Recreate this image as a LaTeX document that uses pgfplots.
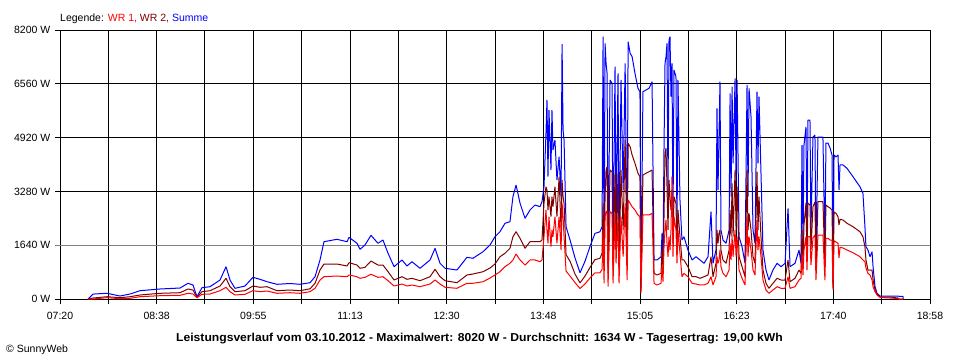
\documentclass[border=0pt]{standalone}
\usepackage{pgfplots}
\pgfplotsset{compat=1.18}
\usepackage{pgfplotstable}
\usepackage{fontspec}
\setmainfont{Liberation Sans}
\definecolor{wrone}{RGB}{255,0,0}
\definecolor{wrtwo}{RGB}{128,0,0}
\definecolor{summe}{RGB}{0,0,255}
\definecolor{gridgray}{RGB}{128,128,128}

\pgfplotstableread{
t S W2 W1
462.5 0 0 0
466.5 150 30 0
477.7 174 70 40
488.1 91 40 10
496.2 152 70 21
504.2 253 122 70
520.2 305 174 101
536.3 335 192 113
542.7 479 305 174
546.7 427 274 152
549.9 70 52 40
553.9 344 223 143
560.3 375 253 152
568.4 579 396 253
573.2 985 631 357
576.4 579 375 223
580.4 326 223 122
588.4 396 253 143
594.8 661 396 253
600.5 600 357 223
606.1 527 375 244
614.1 448 253 174
624.5 472 274 192
632.6 448 253 174
640.6 497 311 223
644.6 680 479 326
648.6 1189 884 579
651.8 1747 1067 680
662.2 1820 1067 701
670.3 1747 1006 680
671.9 1881 1107 732
678.3 1698 1036 680
680.7 1515 936 631
684.7 1646 966 661
689.5 1942 1158 753
695.1 1698 1036 661
699.1 1798 1036 680
703.2 1393 832 558
708.0 985 579 396
714.4 1189 680 457
718.4 1006 600 396
722.4 1137 631 427
728.8 936 558 375
736.9 1189 680 457
740.9 1545 905 579
744.9 1088 680 457
748.9 936 558 357
758.5 884 497 326
766.5 1271 732 479
771.3 1241 762 479
779.4 1442 832 527
785.0 1646 945 640
789.0 1899 1067 732
793.0 2051 1289 832
797.0 2308 1393 985
801.0 2356 1545 1088
803.4 3118 1899 1189
805.9 3475 2051 1372
809.1 2917 1850 1189
813.1 2460 1545 1036
817.1 2713 1747 1189
821.1 2865 1747 1189
825.1 2814 1747 1137
826.7 2966 1798 1189
828.3 3423 2917 1899
829.9 5051 3423 2713
830.7 6066 3323 2103
831.5 3728 2713 1698
832.3 5761 3118 2509
833.9 3932 2509 1594
834.7 5761 3118 2103
835.5 4542 2814 1899
837.1 4847 3423 2509
838.7 3627 2509 1698
840.4 4338 3728 2509
842.0 3118 2103 1494
842.8 7773 3627 2917
843.6 5152 3118 2509
844.4 4847 2917 1899
846.0 2204 1350 850
849.2 1800 1150 700
853.2 1250 760 500
857.2 800 490 320
861.2 1150 700 460
865.2 1600 960 640
869.2 2000 1200 800
873.2 2050 1240 800
874.9 2204 1400 900
875.7 7996 2917 2103
876.5 1189 884 479
877.3 7794 3118 2509
878.1 7185 3932 2661
878.9 6880 4033 2661
879.7 1189 783 375
881.3 6676 3932 2661
882.9 6575 3880 2612
883.7 1289 884 479
885.3 7081 3832 2612
886.1 2103 1494 1088
887.7 6880 3832 2509
888.5 1189 884 479
890.1 6676 3932 2509
891.8 3323 2103 1289
893.4 7185 4847 2917
895.0 1494 1088 579
895.8 7843 4746 3018
897.4 7490 4643 2917
899.0 7386 4390 2814
901.3 6880 4137 2713
903.7 6423 3832 2561
905.3 6319 3728 2509
906.1 375 274 174
907.7 6319 3780 2561
910.1 6371 3832 2561
912.6 6423 3880 2561
915.0 6624 3932 2612
916.6 1189 783 479
919.0 1189 732 427
922.2 1289 783 479
923.0 2003 1494 985
923.8 1289 884 527
924.6 4643 2509 1594
925.4 7185 4441 2103
926.2 7386 4594 2408
927.0 7794 3423 1698
927.8 3118 2103 1289
928.6 7895 3627 1899
929.4 7996 3118 1494
930.2 6167 2713 2103
931.0 7185 3323 3728
931.8 2308 1698 1289
932.6 6981 3118 2509
934.2 6776 2917 2103
935.0 1899 1494 1088
935.8 6676 2713 2103
937.4 3018 1899 1393
939.0 1798 1189 680
940.6 1899 1189 783
943.8 1494 985 680
947.1 1189 680 479
950.3 1289 680 457
953.5 1189 631 427
956.7 1088 680 427
959.9 1289 732 479
962.3 2661 1289 680
963.9 1088 680 427
966.3 1494 1088 680
967.1 5813 2103 1289
967.9 3323 1698 1088
968.7 4947 2003 1189
969.5 6624 2103 1494
970.3 2103 1494 985
971.9 1798 1189 783
974.4 1698 1088 680
976.8 2103 1494 884
977.6 6270 2713 1698
978.4 3118 1899 1189
979.2 6471 3527 1899
980.0 4137 1899 1289
981.6 6728 3932 2103
982.4 3527 2103 1289
983.2 6676 3423 1899
984.8 1899 1289 884
987.2 1594 985 631
989.6 1088 680 427
991.2 6523 3932 2509
992.0 3118 2103 1289
992.8 6423 2612 1899
994.4 5557 2103 1494
996.0 2103 1289 884
997.6 1698 1088 732
999.2 6319 3880 2408
1000.0 4137 2103 1494
1000.8 6167 3118 1899
1002.4 3832 1899 1289
1004.0 1494 884 579
1006.4 884 479 274
1008.8 579 326 174
1012.0 884 479 274
1015.3 1088 631 375
1018.5 985 579 326
1021.7 1088 579 326
1024.1 2765 1189 680
1025.7 985 527 326
1029.7 1088 631 375
1032.9 1494 884 579
1034.5 1088 783 631
1035.3 4694 2103 1393
1036.1 1494 1036 732
1036.9 4694 2256 1494
1038.5 5243 2926 1899
1039.3 1494 1189 884
1040.1 5456 2926 1899
1041.7 5456 2865 1899
1042.5 2103 1494 1036
1044.1 4938 2814 1859
1045.7 4999 2957 1951
1046.5 1189 884 579
1048.1 4938 2966 1951
1052.1 4938 2966 1951
1053.7 1494 1036 579
1054.5 4755 2865 1850
1056.1 4755 2814 1850
1057.8 4603 2774 1798
1059.4 4390 2713 1798
1060.2 488 366 274
1061.0 4390 2652 1777
1062.6 4329 2612 1737
1064.2 4390 2509 1698
1065.0 3323 2256 1250
1065.8 4085 2429 1576
1068.2 4085 2408 1555
1071.4 3984 2308 1494
1076.2 3728 2204 1411
1081.8 3423 2051 1289
1084.2 3222 1899 1189
1085.8 2204 1594 1137
1086.6 1594 1189 945
1088.2 1494 884 783
1089.9 1289 884 732
1091.5 1442 884 579
1092.3 985 579 375
1093.9 375 274 223
1095.5 174 152 122
1097.9 91 61 46
1105.9 91 61 30
1112.3 91 30 15
1113.1 80 0 0
1116.3 80 0 0
1116.5 0 0 0
}\datatable

\begin{document}
\fontsize{10.5}{12}\selectfont
\begin{tikzpicture}[font=\fontsize{10.5}{12}\selectfont]
\useasboundingbox (0,0) rectangle (960pt,360pt);
\begin{axis}[
  at={(60pt,61pt)}, anchor=south west,
  width=870pt, height=269pt, scale only axis,
  xmin=440, xmax=1138, ymin=0, ymax=8200,
  axis line style={black, line width=1pt},
  tick align=outside, tick pos=left,
  major tick length=5pt,
  major tick style={black, line width=1pt},
  xmajorgrids, ymajorgrids,
  major grid style={black, line width=1pt},
  xtick={440,478.78,517.56,556.33,595.11,633.89,672.67,711.44,750.22,789.00,827.78,866.56,905.33,944.11,982.89,1021.67,1060.44,1099.22,1138},
  xticklabels={07:20,,08:38,,09:55,,11:13,,12:30,,13:48,,15:05,,16:23,,17:40,,18:58},
  ytick={0,3280,4920,6560,8200},
  yticklabels={0 W,3280 W,4920 W,6560 W,8200 W},
  extra y ticks={1640},
  extra y tick labels={1640 W},
  extra y tick style={major grid style={gridgray, line width=1pt}, major tick style={gridgray, line width=1pt}},
  every tick label/.append style={font=\fontsize{10.5}{12}\selectfont},
  xticklabel style={yshift=-4pt},
  yticklabel style={xshift=-1pt},
]
\addplot[summe, line width=1pt, line join=bevel] table[x=t,y=S]{\datatable};
\addplot[wrtwo, line width=1pt, line join=bevel] table[x=t,y=W2]{\datatable};
\addplot[wrone, line width=1pt, line join=bevel] table[x=t,y=W1]{\datatable};
\end{axis}
\node[anchor=base west, inner sep=0] at (60pt,339pt) {Legende: \textcolor{wrone}{WR 1,} \textcolor{wrtwo}{WR 2,} \textcolor{summe}{Summe}};
\node[anchor=base, inner sep=0, font=\fontsize{11.5}{13}\selectfont\bfseries] at (479.5pt,19pt) {\scalebox{1.055}[1]{Leistungsverlauf vom 03.10.2012 - Maximalwert: 8020 W - Durchschnitt: 1634 W - Tagesertrag: 19,00 kWh}};
\node[anchor=base west, inner sep=0] at (6pt,8pt) {\textcopyright{} SunnyWeb};
\end{tikzpicture}
\end{document}
